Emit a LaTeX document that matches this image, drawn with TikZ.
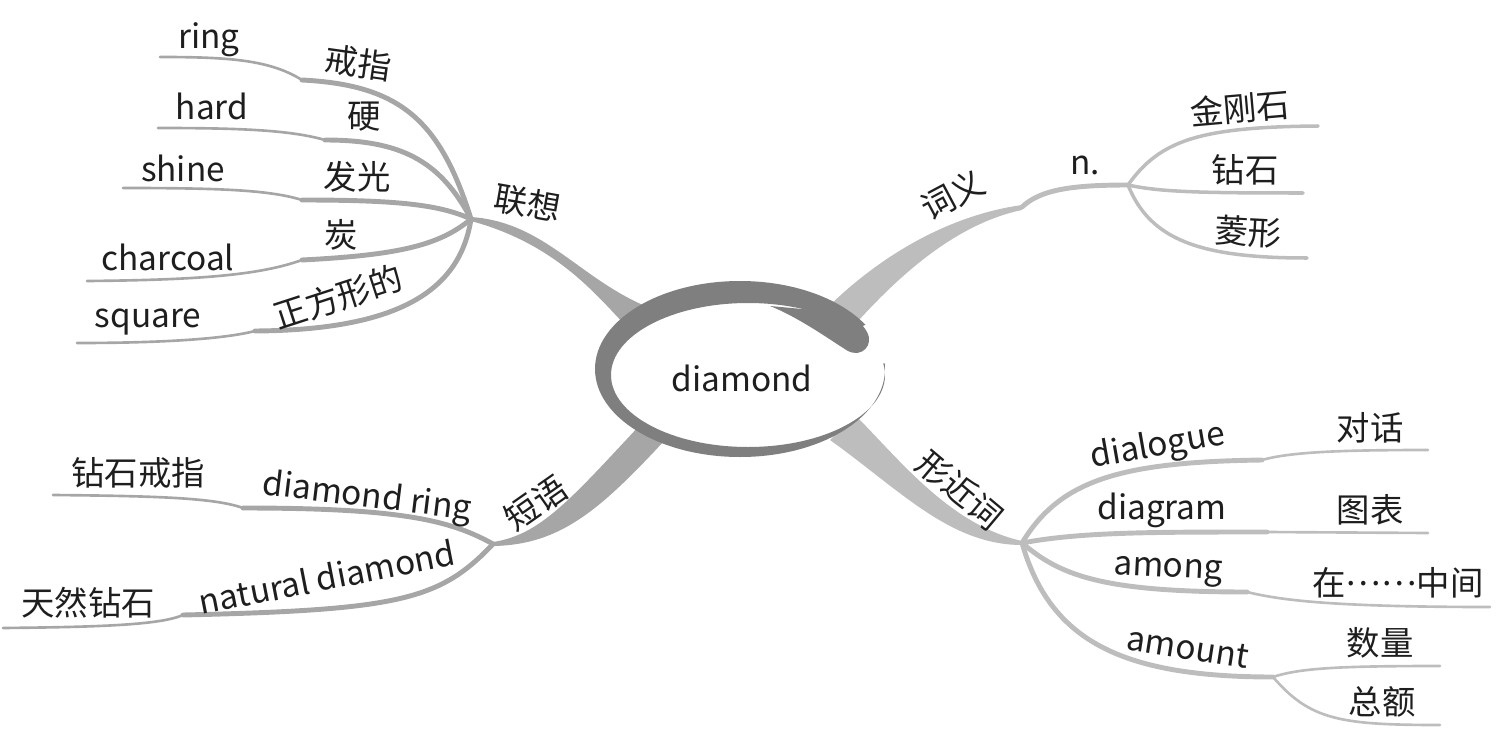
\documentclass[tikz,border=0pt]{standalone}
\usepackage{fontspec}
\setmainfont{Noto Sans CJK SC}
\usetikzlibrary{calc}
\definecolor{mmring}{HTML}{7F7F7F}
\definecolor{mmleft}{HTML}{A6A6A6}
\definecolor{mmright}{HTML}{BDBDBD}
\definecolor{mmtext}{HTML}{1E1E1E}

\begin{document}
\begin{tikzpicture}[x=0.02cm,y=-0.02cm,
    font=\fontsize{19}{22}\selectfont, text=mmtext,
    word/.style={inner sep=0pt},
    twig/.style={line width=2.8pt, line cap=round},
    leaf/.style={line width=1.5pt, line cap=round}]
  \useasboundingbox (0,0) rectangle (1511,750);

  % hubs of the four branches
  \coordinate (lx) at (471,219);
  \coordinate (cy) at (1022,207);
  \coordinate (dy) at (493,544);
  \coordinate (xj) at (1022,543);

  % main branches
  \fill[mmleft] ($(lx)+(0,-2)$) .. controls (545,222) and (580,280) .. (650,308)
    -- (630,330) .. controls (600,300) and (560,245) .. ($(lx)+(0,2)$) -- cycle;
  \fill[mmright] ($(cy)+(0,-2)$) .. controls (950,215) and (880,255) .. (825,310)
    -- (850,330) .. controls (890,285) and (950,225) .. ($(cy)+(0,3)$) -- cycle;
  \fill[mmleft] ($(dy)+(0,-2)$) .. controls (540,535) and (570,500) .. (640,425)
    -- (665,440) .. controls (600,510) and (560,545) .. ($(dy)+(0,2)$) -- cycle;
  \fill[mmright] ($(xj)+(0,-2)$) .. controls (950,525) and (900,460) .. (855,415)
    -- (830,440) .. controls (900,490) and (950,545) .. ($(xj)+(0,2)$) -- cycle;

  % centre
  \coordinate (mid) at (748,375);
  \fill[white] (mid) ellipse [x radius=137, y radius=72];
  \begin{scope}
    \clip (550,250) -- (900,250) -- (900,310) -- (mid) -- (900,362)
      -- (900,500) -- (550,500) -- cycle;
    \fill[mmring, even odd rule] (740,369) ellipse [x radius=145, y radius=88]
      (mid) ellipse [x radius=137, y radius=72];
  \end{scope}
  \fill[mmring] (770,306) .. controls (800,318) and (830,340) .. (848,351)
    .. controls (862,358) and (874,345) .. (867,332)
    .. controls (862,323) and (855,318) .. (845,313) -- cycle;
  \node[word] (core) at (742,378) {diamond};

  % 联想
  \node[word, rotate=-10] (lianxiang) at (528,203) {联想};
  \coordinate (k1) at (302,80);
  \coordinate (k2) at (325,140);
  \coordinate (k3) at (302,200);
  \coordinate (k4) at (302,260);
  \coordinate (k5) at (255,331);
  \draw[mmleft, twig] (lx) .. controls (440,120) and (400,85) .. (k1);
  \draw[mmleft, leaf] (k1) .. controls (270,60) and (230,57) .. (160,57);
  \draw[mmleft, twig] (lx) .. controls (440,160) and (400,140) .. (k2);
  \draw[mmleft, leaf] (k2) .. controls (290,130) and (240,128) .. (158,128);
  \draw[mmleft, twig] (lx) .. controls (440,205) and (400,200) .. (k3);
  \draw[mmleft, leaf] (k3) .. controls (270,190) and (220,188) .. (123,188);
  \draw[mmleft, twig] (lx) .. controls (440,245) and (400,255) .. (k4);
  \draw[mmleft, leaf] (k4) .. controls (260,275) and (200,280) .. (87,281);
  \draw[mmleft, twig] (lx) .. controls (460,290) and (400,330) .. (k5);
  \draw[mmleft, leaf] (k5) .. controls (220,340) and (150,343) .. (77,343);
  \node[word] (ring) at (209,40) {ring};
  \node[word, rotate=-8] (jiezhi) at (358,63) {戒指};
  \node[word] (hard) at (212,106) {hard};
  \node[word] (ying) at (364,117) {硬};
  \node[word] (shine) at (183,168) {shine};
  \node[word] (faguang) at (357,177) {发光};
  \node[word] (charcoal) at (168,257) {charcoal};
  \node[word] (tan) at (341,235) {炭};
  \node[word] (square) at (148,322) {square};
  \node[word, rotate=18] (zfx) at (338,297) {正方形的};

  % 词义
  \node[word, rotate=28] (ciyi) at (953,195) {词义};
  \coordinate (nx) at (1128,185);
  \draw[mmright, twig] (cy) .. controls (1040,190) and (1070,185) .. (nx);
  \draw[mmright, line width=2pt, line cap=round] (nx) .. controls (1160,140) and (1200,127) .. (1318,126);
  \draw[mmright, line width=2pt, line cap=round] (nx) .. controls (1160,192) and (1200,193) .. (1303,193);
  \draw[mmright, line width=2pt, line cap=round] (nx) .. controls (1150,240) and (1200,258) .. (1307,258);
  \node[word] (n) at (1085,165) {n.};
  \node[word, rotate=5] (jgs) at (1240,108) {金刚石};
  \node[word] (zuanshi) at (1245,170) {钻石};
  \node[word, rotate=-3] (lingxing) at (1248,232) {菱形};

  % 短语
  \node[word, rotate=35] (duanyu) at (536,503) {短语};
  \coordinate (k6) at (243,508);
  \coordinate (k7) at (183,615);
  \draw[mmleft, twig] (dy) .. controls (450,520) and (400,508) .. (k6);
  \draw[mmleft, leaf] (k6) .. controls (215,498) and (160,496) .. (53,495);
  \draw[mmleft, twig] (dy) .. controls (440,600) and (400,610) .. (k7);
  \draw[mmleft, leaf] (k7) .. controls (160,625) and (100,627) .. (3,628);
  \node[word] (zsjz) at (138,473) {钻石戒指};
  \node[word, rotate=-7] (dring) at (367,498) {diamond ring};
  \node[word, rotate=11] (natural) at (327,577) {natural diamond};
  \node[word] (trzs) at (88,603) {天然钻石};

  % 形近词
  \node[word, rotate=-40] (xingjinci) at (960,490) {形近词};
  \coordinate (k8) at (1262,460);
  \coordinate (k9) at (1267,532);
  \coordinate (k10) at (1247,592);
  \coordinate (am) at (1273,677);
  \draw[mmright, twig] (xj) .. controls (1060,480) and (1120,462) .. (k8);
  \draw[mmright, leaf] (k8) .. controls (1290,452) and (1340,450) .. (1428,450);
  \draw[mmright, twig] (xj) .. controls (1080,532) and (1150,532) .. (k9);
  \draw[mmright, leaf] (k9) -- (1428,533);
  \draw[mmright, twig] (xj) .. controls (1060,575) and (1100,592) .. (k10);
  \draw[mmright, leaf] (k10) .. controls (1280,600) and (1330,607) .. (1490,607);
  \draw[mmright, twig] (xj) .. controls (1050,640) and (1120,677) .. (am);
  \draw[mmright, leaf] (am) .. controls (1300,668) and (1340,666) .. (1440,666);
  \draw[mmright, leaf] (am) .. controls (1310,720) and (1340,725) .. (1440,725);
  \node[word, rotate=10] (dialogue) at (1158,447) {dialogue};
  \node[word] (duihua) at (1370,428) {对话};
  \node[word] (diagram) at (1162,510) {diagram};
  \node[word] (tubiao) at (1370,510) {图表};
  \node[word, rotate=-3] (among) at (1168,572) {among};
  \node[word] (zai) at (1398,583) {在\raisebox{0.32em}{……}中间};
  \node[word, rotate=-9] (amount) at (1188,648) {amount};
  \node[word] (shuliang) at (1380,643) {数量};
  \node[word] (zonge) at (1382,702) {总额};
\end{tikzpicture}
\end{document}
